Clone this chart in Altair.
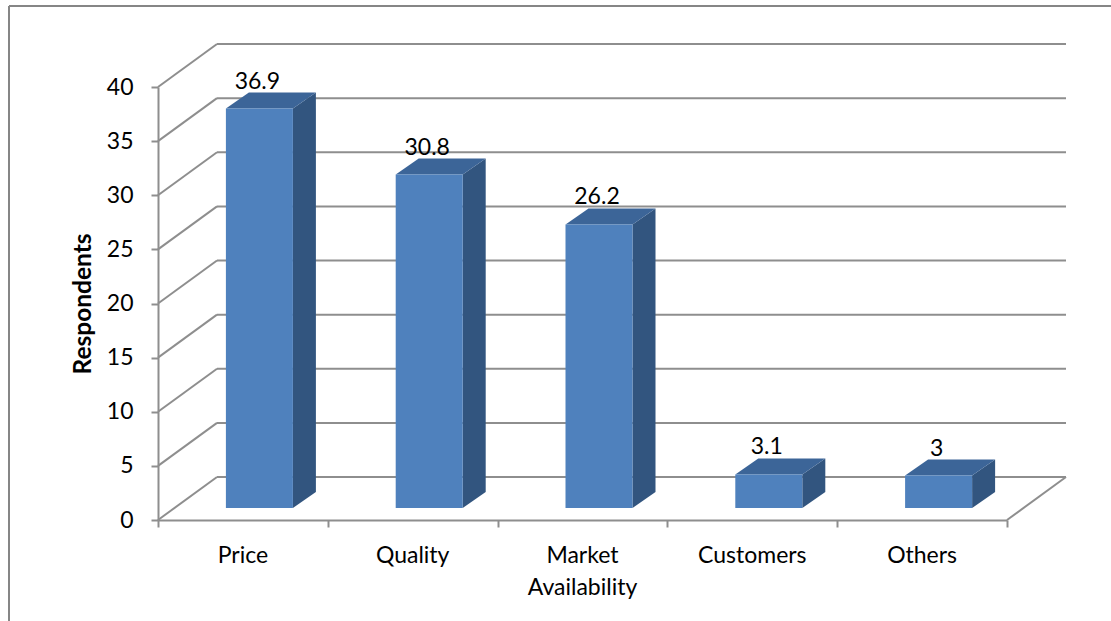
import altair as alt
import pandas as pd

# ---------------- data ----------------
categories = ["Price", "Quality", "Market\nAvailability", "Customers", "Others"]
values = [36.9, 30.8, 26.2, 3.1, 3.0]
value_labels = ["36.9", "30.8", "26.2", "3.1", "3"]
y_ticks = [0, 5, 10, 15, 20, 25, 30, 35, 40]
y_max = 40

# ---------------- layout / style ----------------
W, H = 849, 433                  # front plane of the 3-D box
N = len(categories)
XU = W / N                       # px per category unit
YU = H / y_max                   # px per value unit
WALL_DX, WALL_DY = 59, 43        # depth of the box (px)
FRONT_DX, FRONT_DY = 16.5, 12    # bar front face offset from front plane (px)
BAR_W = 67                       # bar width (px)
BAR_DX, BAR_DY = 23, 16          # bar depth (px)

GRID = "#8e8e8e"
FONT = "Lato"
FS = 23
C_FRONT, C_SIDE, C_TOP = "#4f81bd", "#32557f", "#3c6598"

xs = alt.Scale(domain=[0, N], nice=False, zero=False)
ys = alt.Scale(domain=[0, y_max], nice=False, zero=False)

y_axis = alt.Axis(
    values=y_ticks, format="d", grid=False,
    tickSize=7, tickWidth=2, tickColor=GRID,
    domainColor=GRID, domainWidth=2,
    labelFont=FONT, labelFontSize=FS, labelColor="#000", labelPadding=18,
    title="Respondents", titleFont=FONT, titleFontSize=24.5,
    titleFontWeight="bold", titleColor="#000", titlePadding=11,
)
x_axis = alt.Axis(
    values=list(range(N + 1)), labels=False, grid=False, title=None,
    tickSize=7, tickWidth=2, tickColor=GRID,
    domainColor=GRID, domainWidth=2,
)

# ---------------- derived tables ----------------
rows = []
for i, (c, v, lab) in enumerate(zip(categories, values, value_labels)):
    xc = i + 0.5
    fc = xc + FRONT_DX / XU
    fl = fc - (BAR_W / 2) / XU
    fr = fc + (BAR_W / 2) / XU
    base = FRONT_DY / YU
    top = v + base
    rows.append(dict(cat=c, xc=xc, fc=fc, fl=fl, fr=fr, base=base, top=top,
                     label=lab, lx=fc - 2 / XU))
bars = pd.DataFrame(rows)

ddx, ddy = BAR_DX / XU, BAR_DY / YU
side_rows, top_rows = [], []
for r in rows:
    side_rows += [
        dict(cat=r["cat"], x=r["fr"], y=r["top"], y2=r["base"]),
        dict(cat=r["cat"], x=r["fr"] + ddx, y=r["top"] + ddy, y2=r["base"] + ddy),
    ]
    top_rows += [
        dict(cat=r["cat"], x=r["fl"], y=r["top"], y2=r["top"]),
        dict(cat=r["cat"], x=r["fl"] + ddx, y=r["top"] + ddy, y2=r["top"]),
        dict(cat=r["cat"], x=r["fr"], y=r["top"] + ddy, y2=r["top"]),
        dict(cat=r["cat"], x=r["fr"] + ddx, y=r["top"] + ddy, y2=r["top"] + ddy),
    ]
side = pd.DataFrame(side_rows)
topf = pd.DataFrame(top_rows)
ticks = pd.DataFrame({"v": y_ticks})

# ---------------- layers ----------------
back_grid = alt.Chart(ticks).mark_rule(
    color=GRID, strokeWidth=2,
    xOffset=WALL_DX, x2Offset=WALL_DX, yOffset=-WALL_DY, y2Offset=-WALL_DY,
).encode(
    x=alt.XDatum(0, scale=xs, axis=x_axis),
    x2=alt.X2Datum(N),
    y=alt.Y("v:Q", scale=ys, axis=y_axis),
)

left_diag = alt.Chart(ticks).mark_rule(
    color=GRID, strokeWidth=2, x2Offset=WALL_DX, y2Offset=-WALL_DY,
).encode(
    x=alt.XDatum(0, scale=xs, axis=x_axis),
    x2=alt.X2Datum(0),
    y=alt.Y("v:Q", scale=ys, axis=y_axis),
    y2="v:Q",
)

right_diag = alt.Chart(ticks.head(1)).mark_rule(
    color=GRID, strokeWidth=2, x2Offset=WALL_DX, y2Offset=-WALL_DY,
).encode(
    x=alt.XDatum(N, scale=xs, axis=x_axis),
    x2=alt.X2Datum(N),
    y=alt.Y("v:Q", scale=ys, axis=y_axis),
    y2="v:Q",
)

side_face = alt.Chart(side).mark_area(color=C_SIDE, opacity=1).encode(
    x=alt.X("x:Q", scale=xs, axis=x_axis),
    y=alt.Y("y:Q", scale=ys, axis=y_axis, stack=None),
    y2="y2:Q",
    detail="cat:N",
)

top_face = alt.Chart(topf).mark_area(color=C_TOP, opacity=1).encode(
    x=alt.X("x:Q", scale=xs, axis=x_axis),
    y=alt.Y("y:Q", scale=ys, axis=y_axis, stack=None),
    y2="y2:Q",
    detail="cat:N",
)

front_face = alt.Chart(bars).mark_rect(color=C_FRONT).encode(
    x=alt.X("fl:Q", scale=xs, axis=x_axis),
    x2="fr:Q",
    y=alt.Y("top:Q", scale=ys, axis=y_axis),
    y2="base:Q",
)

value_text = alt.Chart(bars).mark_text(
    font=FONT, fontSize=FS, color="#000", baseline="alphabetic", dy=-20,
).encode(
    x=alt.X("lx:Q", scale=xs, axis=x_axis),
    y=alt.Y("top:Q", scale=ys, axis=y_axis),
    text="label:N",
)

cat_text = alt.Chart(bars).mark_text(
    font=FONT, fontSize=FS, color="#000", baseline="alphabetic", dy=43,
    lineBreak="\n", lineHeight=32,
).encode(
    x=alt.X("xc:Q", scale=xs, axis=x_axis),
    y=alt.YDatum(0, scale=ys, axis=y_axis),
    text="cat:N",
)

border_left = alt.Chart(ticks.head(1)).mark_rule(color="#868686", strokeWidth=2).encode(
    x=alt.value(-149), y=alt.value(-81), y2=alt.value(560),
)
border_top = alt.Chart(ticks.head(1)).mark_rule(color="#868686", strokeWidth=2).encode(
    x=alt.value(-149), x2=alt.value(1000), y=alt.value(-81),
)

chart = alt.layer(
    back_grid, left_diag, right_diag,
    side_face, top_face, front_face,
    value_text, cat_text, border_left, border_top,
).properties(
    width=W, height=H,
    background="white",
    autosize=alt.AutoSizeParams(type="none"),
    padding={"left": 158, "top": 87, "right": 1111 - 158 - W, "bottom": 621 - 87 - H},
).configure_view(strokeWidth=0, stroke="transparent")

chart.save("out.html", embed_options={"renderer": "svg", "actions": False})
